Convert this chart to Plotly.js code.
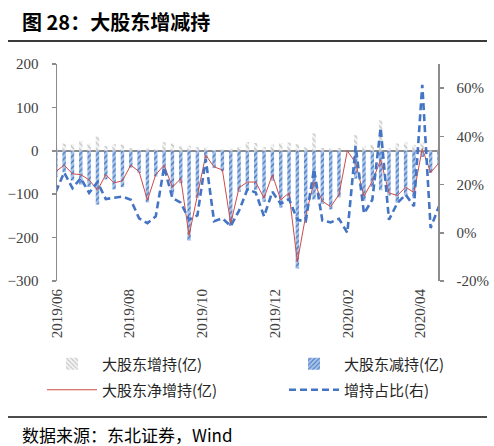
<!DOCTYPE html>
<html>
<head>
<meta charset="utf-8">
<script src="https://cdn.plot.ly/plotly-3.0.1.min.js"></script>
<style>
  html, body { margin: 0; padding: 0; background: #ffffff; }
  #chart { width: 494px; height: 446px; }
</style>
</head>
<body>
<div id="chart"></div>
<script>
// Weekly major-shareholder trading, May 2019 - Apr 2020
const weeks = [
  '2019-05-31','2019-06-07','2019-06-14','2019-06-21','2019-06-28',
  '2019-07-05','2019-07-12','2019-07-19','2019-07-26',
  '2019-08-02','2019-08-09','2019-08-16','2019-08-23','2019-08-30',
  '2019-09-06','2019-09-13','2019-09-20','2019-09-27',
  '2019-10-04','2019-10-11','2019-10-18','2019-10-25',
  '2019-11-01','2019-11-08','2019-11-15','2019-11-22','2019-11-29',
  '2019-12-06','2019-12-13','2019-12-20','2019-12-27',
  '2020-01-03','2020-01-10','2020-01-17','2020-01-24','2020-01-31',
  '2020-02-07','2020-02-14','2020-02-21','2020-02-28',
  '2020-03-06','2020-03-13','2020-03-20','2020-03-27',
  '2020-04-03','2020-04-10','2020-04-17'
];

// 大股东增持 (亿)
const increase = [
  12.4, 16.5, 15.6, 22.9, 16.5, 33.0, 10.7, 15.0, 14.8, 6.2,
  3.3, 5.0, 4.3, 19.8, 17.0, 10.7, 11.8, 8.4, 7.8, 2.0,
  3.0, 5.0, 9.6, 20.3, 18.0, 8.6, 14.2, 17.8, 18.9, 15.5,
  7.8, 40.3, 6.6, 6.0, 6.6, 0, 36.0, 10.0, 13.2, 70.0,
  5.9, 16.8, 19.4, 13.5, 19.0, 1.0, 4.0
];

// 大股东减持 (亿)
const decrease = [
  -60.4, -49.5, -68.6, -77.9, -83.5, -124.0, -65.7, -89.0, -83.8, -39.2,
  -51.3, -119.0, -59.3, -52.8, -101.0, -74.7, -206.8, -108.4, -17.8, -39.0,
  -47.0, -173.0, -94.6, -92.3, -90.0, -117.6, -69.2, -130.8, -115.9, -271.5,
  -157.8, -112.3, -122.6, -135.0, -107.6, 0, -64.0, -115.0, -83.2, -91.0,
  -102.9, -119.8, -103.4, -109.5, -14.0, -51.0, -32.0
];

// 大股东净增持 (亿)
const netChange = [
  -48, -33, -53, -55, -67, -91, -55, -74, -69, -33,
  -48, -114, -55, -33, -84, -64, -195, -100, -10, -37,
  -44, -168, -85, -72, -72, -109, -55, -113, -97, -256,
  -150, -72, -116, -129, -101, 0, -28, -105, -70, -21,
  -97, -103, -84, -96, 5, -50, -28
];

// 增持占比 (%, right axis)
const increaseShare = [
  17, 25, 18.5, 22.7, 16.5, 21, 14, 14.4, 15, 13.7,
  6, 4, 6.8, 27.3, 14.4, 12.5, 5.4, 7.2, 30.5, 4.8,
  6, 2.8, 9.2, 18, 16.7, 6.8, 17, 12, 14, 5.4,
  4.7, 26.4, 5.1, 4.3, 5.8, 0, 36, 8, 13.7, 43.5,
  5.4, 12.3, 15.8, 11, 61.4, 2, 11
];

const leftTicks = [-300, -200, -100, 0, 100, 200];
const rightTicks = [-20, 0, 20, 40, 60];
const rightTickText = ['-20%', '0%', '20%', '40%', '60%'];

const DAY = 86400000;
const barWidth = 2.9 * DAY;
const cjk = '"Noto Sans CJK SC", sans-serif';
const serif = '"Liberation Serif", "DejaVu Serif", serif';

// plot area in pixels: x 57..438, y 64..281
const px = v => (v - 57) / 381;
const py = v => (281 - v) / 217;

const traces = [
  {
    type: 'bar', name: '大股东增持(亿)', x: weeks, y: increase,
    width: barWidth, legend: 'legend',
    marker: {
      color: '#f2f2f2',
      line: { width: 0 },
      pattern: { shape: '\\', fgcolor: '#c4c4c4', bgcolor: '#f4f4f4', size: 4, solidity: 0.35 }
    }
  },
  {
    type: 'bar', name: '大股东减持(亿)', x: weeks, y: decrease,
    width: barWidth, legend: 'legend2',
    marker: {
      color: '#a9c4e8',
      line: { width: 0 },
      pattern: { shape: '/', fgcolor: '#3f72c2', bgcolor: '#a9c4e8', size: 4, solidity: 0.3 }
    }
  },
  {
    type: 'scatter', mode: 'lines', name: '大股东净增持(亿)', x: weeks, y: netChange,
    legend: 'legend3',
    line: { color: '#cf4b47', width: 1 }
  },
  {
    type: 'scatter', mode: 'lines', name: '增持占比(右)', x: weeks, y: increaseShare,
    yaxis: 'y2', legend: 'legend4',
    line: { color: '#4474c4', width: 2.6, dash: '7px,4px' }
  }
];

function legendAt(xText, yMid) {
  return {
    orientation: 'h', x: px(xText - 61), xanchor: 'left', y: py(yMid), yanchor: 'middle',
    itemwidth: 50,
    font: { family: cjk, size: 15, color: '#262626' },
    bgcolor: 'rgba(0,0,0,0)'
  };
}

const layout = {
  width: 494, height: 446,
  margin: { l: 57, r: 56, t: 64, b: 165 },
  paper_bgcolor: '#ffffff', plot_bgcolor: 'rgba(0,0,0,0)',
  barmode: 'overlay',
  showlegend: true,
  xaxis: {
    type: 'date',
    range: ['2019-06-01', '2020-04-16 05:00'],
    tickmode: 'linear', tick0: '2019-06-01', dtick: 'M2',
    tickformat: '%Y/%m', tickangle: -90,
    tickfont: { family: serif, size: 15, color: '#404040' },
    showgrid: false, showline: false, zeroline: false,
    ticks: '', ticklabelstandoff: 4
  },
  yaxis: {
    range: [-300, 200],
    tickmode: 'array', tickvals: leftTicks,
    tickfont: { family: serif, size: 15, color: '#404040' },
    showgrid: false,
    showline: true, linecolor: '#8c8c8c', linewidth: 1.5,
    ticks: 'outside', ticklen: 4, tickcolor: '#8c8c8c', tickwidth: 1.5,
    zeroline: true, zerolinecolor: '#8c8c8c', zerolinewidth: 2,
    ticklabelstandoff: 10
  },
  yaxis2: {
    overlaying: 'y', side: 'right', anchor: 'x',
    range: [-20, 70],
    tickmode: 'array', tickvals: rightTicks, ticktext: rightTickText,
    tickfont: { family: serif, size: 15, color: '#404040' },
    showgrid: false, zeroline: false,
    showline: true, linecolor: '#8c8c8c', linewidth: 1.5,
    ticks: 'outside', ticklen: 4, tickcolor: '#8c8c8c', tickwidth: 1.5,
    ticklabelstandoff: 10
  },
  legend: legendAt(103, 364),
  legend2: legendAt(345, 364),
  legend3: legendAt(103, 390),
  legend4: legendAt(345, 390),
  shapes: [
    // rule under the heading
    { type: 'line', xref: 'paper', yref: 'paper',
      x0: px(8), x1: px(487), y0: py(41), y1: py(41),
      line: { color: '#3a3a3a', width: 2 } },
    // rule above the source line
    { type: 'line', xref: 'paper', yref: 'paper',
      x0: px(8), x1: px(487), y0: py(417), y1: py(417),
      line: { color: '#111111', width: 1.5 } }
  ],
  annotations: [
    { text: '<b>图 28：大股东增减持</b>', xref: 'paper', yref: 'paper',
      x: px(20), xanchor: 'left', y: py(22), yanchor: 'middle',
      showarrow: false, font: { family: cjk, size: 20, color: '#000000' } },
    { text: '数据来源：东北证券，Wind', xref: 'paper', yref: 'paper',
      x: px(20), xanchor: 'left', y: py(434), yanchor: 'middle',
      showarrow: false, font: { family: cjk, size: 17, color: '#000000' } }
  ]
};

Plotly.newPlot('chart', traces, layout, { displayModeBar: false, staticPlot: true });
</script>
</body>
</html>
